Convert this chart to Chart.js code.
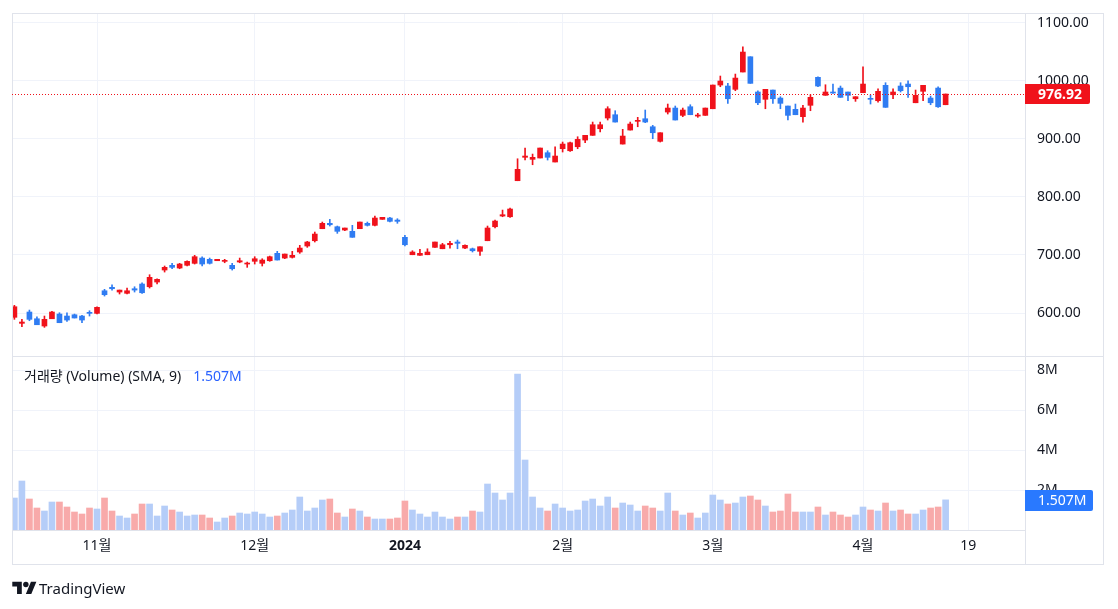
<!DOCTYPE html>
<html>
<head>
<meta charset="utf-8">
<script src="https://cdn.jsdelivr.net/npm/chart.js@4.4.1/dist/chart.umd.min.js"></script>
<style>
  html, body { margin: 0; padding: 0; background: #fff; }
  #wrap { position: relative; width: 1118px; height: 609px; }
  #brand { position: absolute; left: 12px; top: 578px; display: flex; align-items: center; gap: 2px;
           font: 15px 'Noto Sans', sans-serif; color: #131722; }
</style>
</head>
<body>
<div id="wrap">
  <canvas id="chart" width="1118" height="609"></canvas>
  <div id="brand">
    <svg width="25" height="19" viewBox="0 0 36 28"><path fill="#131722" d="M14 22H7V11H0V4h14v18zM28 22h-8l7.5-18h8L28 22z"/><circle fill="#131722" cx="20" cy="8" r="4"/></svg>
    <span>TradingView</span>
  </div>
</div>
<script>
// ── data (daily candles, index 0 = first bar) ─────────────────────
const OPEN = [
  592.6, 582.2, 601.7, 590.1, 577.6, 590.1, 598.2, 594.8, 597.0, 594.8,
  600.5, 599.4, 638.3, 644.2, 636.1, 633.9, 641.8, 649.9, 645.2, 653.3,
  674.0, 682.1, 677.4, 682.1, 685.5, 694.6, 692.4, 690.0, 688.9, 682.1,
  687.8, 684.3, 689.0, 685.5, 690.0, 702.7, 694.6, 695.8, 705.0, 715.3,
  724.4, 745.1, 754.4, 748.5, 742.8, 740.6, 745.1, 754.4, 750.9, 761.2,
  763.5, 760.0, 730.3, 700.3, 699.3, 700.3, 713.0, 710.6, 717.5, 722.2,
  711.8, 710.6, 706.2, 724.4, 748.5, 766.9, 765.7, 827.7, 868.0, 864.5,
  866.8, 875.9, 859.9, 882.8, 879.3, 886.2, 897.7, 905.8, 917.2, 935.6,
  941.3, 890.8, 914.9, 929.9, 934.4, 920.6, 895.5, 945.9, 952.8, 940.2,
  955.1, 939.0, 940.2, 951.6, 992.4, 990.7, 985.0, 1014.8, 1041.1, 980.4,
  967.8, 983.8, 970.0, 956.3, 950.6, 937.9, 957.5, 1005.7, 974.7, 980.4,
  987.2, 980.4, 968.8, 979.2, 969.5, 965.4, 991.9, 975.7, 990.7, 994.1,
  961.9, 981.6, 970.0, 987.2, 958.5
];
const HIGH = [
  613.2, 589.1, 605.1, 593.6, 594.8, 602.9, 600.5, 600.5, 598.2, 596.0,
  603.9, 610.8, 640.8, 648.7, 639.5, 643.0, 645.2, 652.1, 665.9, 659.0,
  680.9, 685.5, 685.5, 690.0, 699.3, 696.9, 694.6, 692.4, 692.4, 685.5,
  694.6, 687.7, 696.9, 693.4, 698.0, 706.2, 701.5, 706.2, 716.5, 723.4,
  739.4, 756.6, 761.2, 749.7, 746.3, 750.9, 756.6, 756.6, 766.9, 764.7,
  764.7, 762.3, 733.7, 707.2, 709.6, 710.6, 722.2, 719.9, 723.4, 725.6,
  717.5, 711.8, 714.1, 749.7, 760.0, 777.2, 780.7, 865.5, 884.0, 873.6,
  884.0, 879.3, 886.2, 894.3, 894.3, 903.4, 905.8, 928.7, 928.7, 955.1,
  948.2, 916.2, 928.7, 936.8, 949.4, 923.0, 910.3, 959.7, 956.3, 952.8,
  958.5, 943.7, 952.8, 992.4, 1007.9, 995.3, 1011.3, 1058.3, 1041.1, 982.6,
  985.0, 983.8, 972.3, 956.3, 959.7, 957.5, 975.7, 1006.7, 992.9, 994.1,
  990.7, 980.4, 972.3, 1023.9, 975.2, 986.0, 996.4, 986.0, 996.4, 999.8,
  983.8, 991.9, 973.3, 989.5, 976.92
];
const LOW = [
  589.1, 576.4, 586.7, 579.8, 575.3, 590.1, 583.3, 585.7, 591.4, 583.3,
  594.8, 598.3, 629.2, 639.5, 632.7, 632.7, 636.1, 633.9, 643.0, 649.9,
  670.5, 676.2, 676.2, 680.9, 684.3, 680.9, 684.3, 690.0, 686.5, 673.9,
  686.5, 678.6, 684.3, 680.9, 689.0, 691.2, 693.5, 694.6, 702.7, 713.0,
  722.2, 745.1, 749.7, 737.1, 741.6, 730.3, 745.1, 749.7, 749.7, 761.2,
  756.6, 754.4, 715.3, 700.3, 699.3, 700.3, 713.0, 710.6, 711.8, 710.6,
  710.6, 705.0, 699.3, 724.4, 746.3, 765.7, 764.7, 827.7, 863.3, 855.2,
  866.8, 863.3, 859.9, 877.1, 878.3, 882.8, 893.1, 905.8, 911.5, 932.2,
  928.7, 890.8, 914.9, 920.6, 927.6, 900.0, 894.3, 942.5, 932.2, 937.9,
  941.3, 936.8, 940.2, 951.6, 989.5, 960.9, 982.6, 1014.8, 995.3, 958.5,
  951.6, 960.9, 951.6, 932.2, 941.3, 928.7, 948.2, 989.5, 974.7, 978.1,
  971.2, 965.4, 964.3, 979.2, 959.7, 963.1, 954.0, 968.8, 980.4, 971.2,
  961.9, 965.4, 958.5, 954.0, 958.5
];
const CLOSE = [
  610.8, 584.5, 589.1, 579.8, 589.1, 601.7, 583.3, 587.9, 591.4, 587.9,
  599.4, 609.8, 631.5, 641.8, 639.5, 638.3, 639.5, 634.9, 661.4, 658.0,
  678.6, 678.6, 684.3, 688.9, 696.9, 684.3, 685.5, 692.4, 690.0, 676.2,
  690.0, 685.5, 693.4, 691.2, 696.9, 691.2, 701.5, 699.3, 711.8, 722.2,
  735.9, 754.4, 751.9, 740.6, 746.3, 730.3, 756.6, 750.9, 763.5, 764.7,
  757.8, 757.8, 717.5, 705.0, 702.7, 705.0, 722.2, 717.5, 719.9, 719.9,
  716.5, 707.2, 714.1, 746.3, 758.3, 769.2, 779.0, 847.3, 870.2, 868.0,
  884.0, 868.0, 870.2, 890.8, 893.1, 898.9, 905.8, 924.1, 924.1, 951.6,
  928.7, 904.6, 925.3, 931.0, 928.7, 910.3, 910.3, 952.8, 932.2, 949.4,
  941.3, 940.8, 952.8, 992.4, 999.3, 968.8, 1004.4, 1049.2, 995.3, 961.9,
  985.0, 968.8, 960.9, 940.2, 941.3, 952.8, 971.2, 990.7, 980.4, 978.6,
  971.2, 974.7, 972.3, 994.1, 967.8, 981.6, 954.0, 980.4, 982.6, 989.5,
  974.7, 991.9, 961.9, 955.0, 976.92
];
// volume in millions
const VOLUME = [
  1.6, 2.45, 1.55, 1.1, 0.95, 1.4, 1.4, 1.15, 0.9, 0.8,
  1.1, 1.05, 1.6, 0.95, 0.7, 0.6, 0.8, 1.3, 1.3, 0.7,
  1.2, 1.0, 0.9, 0.7, 0.75, 0.75, 0.6, 0.4, 0.6, 0.7,
  0.85, 0.8, 0.9, 0.8, 0.65, 0.7, 0.85, 1.0, 1.65, 0.95,
  1.1, 1.5, 1.55, 0.85, 0.65, 1.05, 0.95, 0.65, 0.55, 0.55,
  0.55, 0.6, 1.45, 1.0, 0.8, 0.65, 0.9, 0.65, 0.55, 0.65,
  0.65, 0.95, 0.9, 2.3, 1.85, 1.5, 1.85, 7.8, 3.5, 1.65,
  1.1, 0.95, 1.3, 1.1, 0.95, 1.0, 1.45, 1.55, 1.2, 1.65,
  1.1, 1.35, 1.25, 0.95, 1.2, 1.1, 0.95, 1.85, 0.95, 0.75,
  0.85, 0.6, 0.85, 1.75, 1.5, 1.3, 1.35, 1.65, 1.7, 1.5,
  1.2, 0.9, 0.95, 1.8, 0.9, 0.9, 0.9, 1.15, 0.75, 0.9,
  0.75, 0.65, 0.75, 1.15, 1.0, 0.95, 1.35, 0.95, 1.0, 0.8,
  0.8, 1.0, 1.1, 1.15, 1.507
];
// time axis: bar index of each labelled date
const TICK_POS    = [11, 32, 52, 73, 93, 113, 127];
const TICK_LABELS = ['11월', '12월', '2024', '2월', '3월', '4월', '19'];
const PRICE_TICKS = [600, 700, 800, 900, 1000, 1100];
const VOL_TICKS   = [2, 4, 6, 8];
const LEGEND_TEXT = '거래량 (Volume) (SMA, 9)';

// ── styling ───────────────────────────────────────────────────────
const RED      = '#f0121b';
const BLUE     = '#2f7cf2';
const RED_VOL  = '#f8aaaa';
const BLUE_VOL = '#b5cdf8';
const GRID     = '#f0f3fa';
const FRAME    = '#e0e3eb';
const TEXT     = '#131722';
const FONT     = "'Noto Sans', 'Noto Sans CJK KR', sans-serif";

const isUp = i => CLOSE[i] >= OPEN[i];
const candleColor = ctx => isUp(ctx.dataIndex) ? RED : BLUE;
const volColor    = ctx => isUp(ctx.dataIndex) ? BLUE_VOL : RED_VOL;

const bodies = OPEN.map((o, i) => ({ x: i, y: [o, CLOSE[i]] }));
const wicks  = LOW.map((l, i) => ({ x: i, y: [l, HIGH[i]] }));
const vols   = VOLUME.map((v, i) => ({ x: i, y: v }));

const fmtVol = v => v.toFixed(3) + 'M';

// keep the right axes from pushing the plot area down
const fixWidth = s => { s.width = 79; s.paddingTop = 0; s.paddingBottom = 0; };

/**
 * Frame, pane divider, last-price line and the two value badges.
 */
const overlay = {
  id: 'overlay',
  afterDraw(chart) {
    const { ctx, chartArea: a, scales: { x, yp, yv } } = chart;
    const last = CLOSE.length - 1;
    const line = (x1, y1, x2, y2) => {
      ctx.beginPath(); ctx.moveTo(x1, y1); ctx.lineTo(x2, y2); ctx.stroke();
    };
    ctx.save();
    ctx.lineWidth = 1;
    ctx.strokeStyle = FRAME;
    ctx.strokeRect(a.left + 0.5, a.top + 0.5, yp.right - a.left - 1, x.bottom - a.top);
    line(a.left, Math.round(yp.bottom) + 0.5, yp.right, Math.round(yp.bottom) + 0.5);
    line(Math.round(a.right) + 0.5, a.bottom, Math.round(a.right) + 0.5, x.bottom);

    // last price line + badge
    const py = Math.round(yp.getPixelForValue(CLOSE[last])) + 0.5;
    ctx.strokeStyle = RED;
    ctx.setLineDash([1, 2]);
    line(a.left, py, a.right, py);
    ctx.setLineDash([]);
    ctx.fillStyle = RED;
    ctx.beginPath(); ctx.roundRect(a.right, py - 10.5, 65, 20, [0, 2, 2, 0]); ctx.fill();
    ctx.fillStyle = '#fff';
    ctx.textBaseline = 'middle';
    ctx.font = `bold 14px ${FONT}`;
    ctx.fillText(CLOSE[last].toFixed(2), a.right + 13, py + 0.5);

    // last volume badge
    const vy = Math.round(yv.getPixelForValue(VOLUME[last])) + 0.5;
    ctx.fillStyle = '#2979ff';
    ctx.beginPath(); ctx.roundRect(a.right, vy - 10.5, 68, 21, [0, 2, 2, 0]); ctx.fill();
    ctx.fillStyle = '#fff';
    ctx.font = `14px ${FONT}`;
    ctx.fillText(fmtVol(VOLUME[last]), a.right + 13, vy + 0.5);

    // volume pane legend
    ctx.font = `14px ${FONT}`;
    ctx.fillStyle = TEXT;
    const lx = a.left + 12, ly = yv.top + 21;
    ctx.fillText(LEGEND_TEXT, lx, ly);
    ctx.fillStyle = '#2962ff';
    ctx.fillText(fmtVol(VOLUME[last]), lx + ctx.measureText(LEGEND_TEXT).width + 12, ly);
    ctx.restore();
  }
};

new Chart(document.getElementById('chart'), {
  type: 'bar',
  data: {
    datasets: [
      { data: bodies, yAxisID: 'yp', backgroundColor: candleColor, barThickness: 5, minBarLength: 1, grouped: false },
      { data: wicks,  yAxisID: 'yp', backgroundColor: candleColor, barThickness: 1, minBarLength: 1, grouped: false },
      { data: vols,   yAxisID: 'yv', backgroundColor: volColor,    barThickness: 6, grouped: false },
    ],
  },
  options: {
    responsive: false,
    animation: false,
    events: [],
    layout: { padding: { left: 12, top: 13, right: 14, bottom: 45 } },
    plugins: { legend: { display: false }, tooltip: { enabled: false } },
    scales: {
      x: {
        type: 'linear',
        min: -0.32,
        max: 134.57,
        offset: false,
        afterBuildTicks: s => { s.ticks = TICK_POS.map(v => ({ value: v })); },
        afterFit: s => { s.height = 34; },
        grid: { color: GRID, drawTicks: false, offset: false },
        border: { color: FRAME },
        ticks: {
          autoSkip: false,
          maxRotation: 0,
          padding: 8,
          color: TEXT,
          font: ctx => ({ family: FONT, size: 14, weight: TICK_LABELS[ctx.index] === '2024' ? 'bold' : 'normal' }),
          callback: (v, i) => TICK_LABELS[i],
        },
      },
      yp: {
        position: 'right',
        stack: 'panes',
        stackWeight: 343,
        min: 526,
        max: 1116.4,
        afterBuildTicks: s => { s.ticks = PRICE_TICKS.map(v => ({ value: v })); },
        afterFit: fixWidth,
        grid: { color: GRID, drawTicks: false },
        border: { color: FRAME },
        ticks: { padding: 12, color: TEXT, font: { family: FONT, size: 14 }, callback: v => v.toFixed(2) },
      },
      yv: {
        position: 'right',
        stack: 'panes',
        stackWeight: 174,
        min: 0,
        max: 8.7,
        afterBuildTicks: s => { s.ticks = VOL_TICKS.map(v => ({ value: v })); },
        afterFit: fixWidth,
        grid: { color: GRID, drawTicks: false },
        border: { color: FRAME },
        ticks: { padding: 12, color: TEXT, font: { family: FONT, size: 14 }, callback: v => v + 'M' },
      },
    },
  },
  plugins: [overlay],
});
</script>
</body>
</html>
